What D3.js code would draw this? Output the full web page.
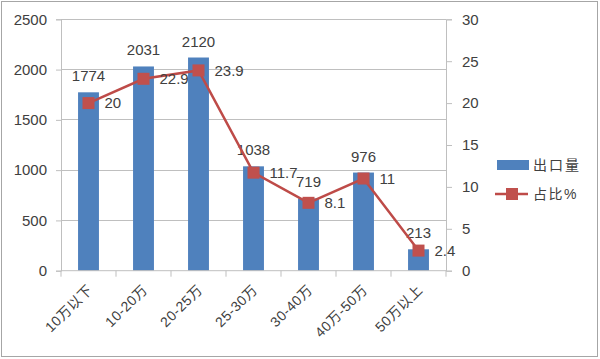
<!DOCTYPE html>
<html><head><meta charset="utf-8">
<script src="https://cdn.jsdelivr.net/npm/d3@7"></script>
<style>body{margin:0;background:#fff}svg{display:block}text{font-family:"Liberation Sans","Noto Sans CJK SC",sans-serif;fill:#404040}</style>
</head><body><svg id="c" width="600" height="359"></svg>
<script>
const categories = ["10万以下","10-20万","20-25万","25-30万","30-40万","40万-50万","50万以上"];
const exportVolume = [1774, 2031, 2120, 1038, 719, 976, 213];
const sharePct = [20, 22.9, 23.9, 11.7, 8.1, 11, 2.4];
const leftTicks = [0, 500, 1000, 1500, 2000, 2500];
const rightTicks = [0, 5, 10, 15, 20, 25, 30];
const seriesNames = ["出口量", "占比%"];

const svg = d3.select("#c");
const L = 61, R = 446, T = 19.3, B = 270.7;
const fs = 15, fsx = 14;
const barColor = "#4F81BD", lineColor = "#BE4B48", markColor = "#C0504D", gridColor = "#BFBFBF";

svg.append("rect").attr("x",1.5).attr("y",1.5).attr("width",596).attr("height",355)
  .attr("fill","#fff").attr("stroke","#A6A6A6").attr("stroke-width",1);

const x = d3.scaleBand().domain(categories).range([L, R]).paddingInner(0.62).paddingOuter(0.31);
const xc = d3.scalePoint().domain(categories).range([L, R]).padding(0.5);
const y = d3.scaleLinear().domain([0, 2500]).range([B, T]);
const y2 = d3.scaleLinear().domain([0, 30]).range([B, T]);

// gridlines
svg.append("g").selectAll("line").data(leftTicks.filter(d=>d>0)).join("line")
  .attr("x1", L).attr("x2", R).attr("y1", d=>y(d)).attr("y2", d=>y(d))
  .attr("stroke", gridColor).attr("stroke-width", 1).attr("shape-rendering","crispEdges");

// left axis
const gl = svg.append("g").attr("transform",`translate(${L},0)`)
  .call(d3.axisLeft(y).tickValues(leftTicks).tickFormat(d3.format("d")).tickSize(5).tickPadding(9));
gl.select(".domain").attr("stroke", gridColor);
gl.selectAll(".tick line").attr("stroke", gridColor);
gl.selectAll("text").style("font-size", fs+"px").attr("fill","#404040");

// right axis
const gr = svg.append("g").attr("transform",`translate(${R},0)`)
  .call(d3.axisRight(y2).tickValues(rightTicks).tickFormat(d3.format("d")).tickSize(6).tickPadding(10));
gr.select(".domain").attr("stroke", gridColor);
gr.selectAll(".tick line").attr("stroke", gridColor);
gr.selectAll("text").style("font-size", fs+"px").attr("fill","#404040");

// bars
svg.append("g").selectAll("rect").data(exportVolume).join("rect")
  .attr("x", (d,i)=>x(categories[i])).attr("width", x.bandwidth())
  .attr("y", d=>y(d)).attr("height", d=>B - y(d)).attr("fill", barColor);

// bottom axis
const step = (R-L)/categories.length;
const gb = svg.append("g");
gb.append("line").attr("x1",L).attr("x2",R).attr("y1",B).attr("y2",B).attr("stroke",gridColor);
gb.selectAll("line.t").data(d3.range(categories.length+1)).join("line").attr("class","t")
  .attr("x1", i=>L+i*step).attr("x2", i=>L+i*step).attr("y1", B).attr("y2", B+6).attr("stroke", gridColor);
gb.selectAll("text").data(categories).join("text")
  .attr("transform", d=>`translate(${xc(d)-2},${B+13}) rotate(-45)`)
  .attr("text-anchor","end").attr("dy","0.7em").style("font-size", fsx+"px").style("letter-spacing","0.5px").text(d=>d);

// bar labels
svg.append("g").selectAll("text").data(exportVolume).join("text")
  .attr("x", (d,i)=>xc(categories[i])).attr("y", d=>y(d)-11)
  .attr("text-anchor","middle").style("font-size", fs+"px").text(d=>d);

// line
const line = d3.line().x((d,i)=>xc(categories[i])).y(d=>y2(d));
svg.append("path").datum(sharePct).attr("d", line).attr("fill","none")
  .attr("stroke", lineColor).attr("stroke-width", 2.5);
const ms = 12;
svg.append("g").selectAll("rect").data(sharePct).join("rect")
  .attr("x",(d,i)=>xc(categories[i])-ms/2).attr("y", d=>y2(d)-ms/2)
  .attr("width", ms).attr("height", ms).attr("fill", markColor);
svg.append("g").selectAll("text").data(sharePct).join("text")
  .attr("x",(d,i)=>xc(categories[i])+16).attr("y", d=>y2(d)).attr("dy","0.35em")
  .style("font-size", fs+"px").text(d=>d);

// legend
const lg = svg.append("g");
lg.append("rect").attr("x",497).attr("y",160).attr("width",32).attr("height",10).attr("fill",barColor);
lg.append("text").attr("x",533).attr("y",165).attr("dy","0.35em").style("font-size","14px").style("letter-spacing","2px").text(seriesNames[0]);
lg.append("line").attr("x1",495).attr("x2",528).attr("y1",194).attr("y2",194).attr("stroke",lineColor).attr("stroke-width",2.5);
lg.append("rect").attr("x",512-ms/2).attr("y",194-ms/2).attr("width",ms).attr("height",ms).attr("fill",markColor);
lg.append("text").attr("x",533).attr("y",194).attr("dy","0.35em").style("font-size","14px").style("letter-spacing","1.5px").text(seriesNames[1]);
</script></body></html>
